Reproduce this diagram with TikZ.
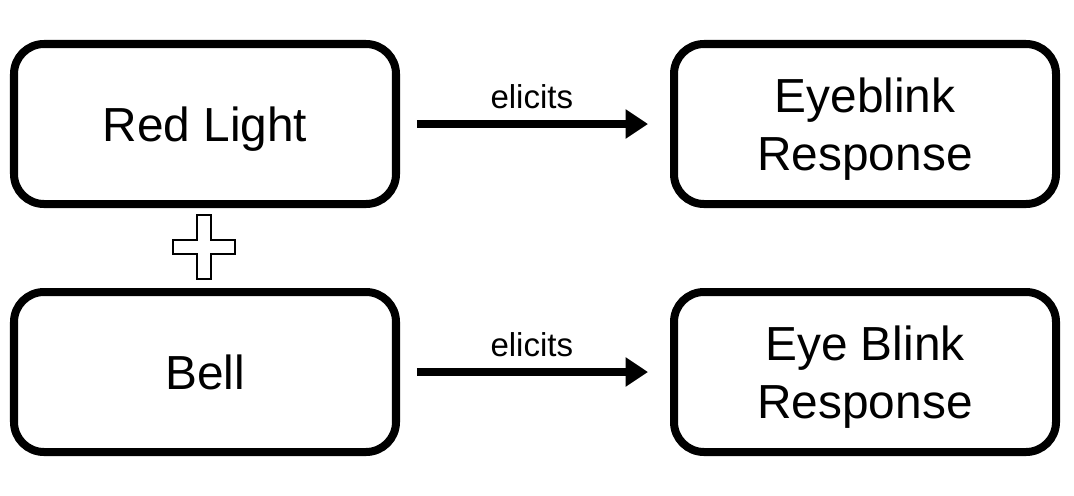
\documentclass[tikz,border=0pt]{standalone}
\usepackage{fontspec}
\setmainfont{Liberation Sans}
\usetikzlibrary{arrows.meta}

\tikzset{
  stimbox/.style={draw, line width=5.7pt, rounded corners=0.75cm,
    minimum width=9.55cm, minimum height=4cm, align=center, text depth=0pt,
    font=\fontsize{34}{41}\selectfont},
  elicit/.style={line width=5pt, -{Triangle[length=16pt,width=20pt]},
    shorten <=0.42cm, shorten >=0.55cm},
  elicitlabel/.style={font=\fontsize{23.5}{26}\selectfont, inner sep=0pt}
}

\begin{document}
\begin{tikzpicture}
  \useasboundingbox (0,0) rectangle (26.85,-12.375);
  % stimuli on the left, responses on the right
  \node[stimbox] (light) at (5.125,-3.1) {Red Light};
  \node[stimbox] (bell) at (5.125,-9.3) {Bell};
  \node[stimbox] (blinkA) at (21.625,-3.1) {Eyeblink\\Response};
  \node[stimbox] (blinkB) at (21.625,-9.3) {Eye Blink\\Response};

  \draw[elicit] (light) -- node[elicitlabel, above=0.3cm, xshift=-0.08cm] {elicits} (blinkA);
  \draw[elicit] (bell) -- node[elicitlabel, above=0.3cm, xshift=-0.08cm] {elicits} (blinkB);

  % the plus between the two stimuli
  \coordinate (plus) at (5.1,-6.175);
  \draw[line width=2pt] (plus) ++(-0.175,0.8) -- ++(0.35,0) -- ++(0,-0.625)
    -- ++(0.6,0) -- ++(0,-0.35) -- ++(-0.6,0) -- ++(0,-0.625) -- ++(-0.35,0)
    -- ++(0,0.625) -- ++(-0.6,0) -- ++(0,0.35) -- ++(0.6,0) -- cycle;
\end{tikzpicture}
\end{document}
